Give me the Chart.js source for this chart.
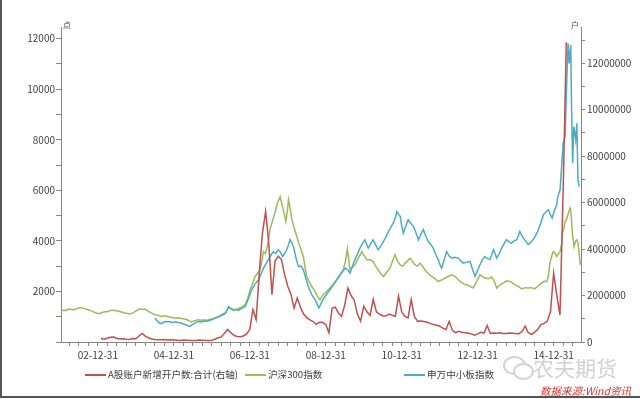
<!DOCTYPE html>
<html lang="zh-CN">
<head>
<meta charset="utf-8">
<title>A股新增开户数与指数走势</title>
<script src="https://cdn.jsdelivr.net/npm/chart.js@4.4.1/dist/chart.umd.min.js"></script>
<style>
  body { margin: 0; background: #fff; font-family: "Noto Sans CJK SC", "Noto Sans", sans-serif; }
  #wrap { position: relative; width: 640px; height: 399px; overflow: hidden; background: #fff; }
  #chart { position: absolute; left: 0; top: 0; }
  #frame { position: absolute; left: 0; top: 0; width: 638px; height: 396px;
           border-left: 2px solid #555; border-bottom: 2px solid #555; pointer-events: none; }
  .unit { position: absolute; top: 19px; font-size: 8px; color: #404040; }
  .leg { position: absolute; top: 366px; font-size: 9.6px; color: #404040; white-space: nowrap; line-height: 16px; }
  .leg i { display: inline-block; width: 21px; height: 2px; vertical-align: middle; margin-right: 2px; }
  #mark { position: absolute; left: 533px; top: 352px; font-size: 21px; color: #d2d2d2; }
  .bub { position: absolute; border: 2px solid #d2d2d2; border-radius: 50%; background: #fff; }
  #src { position: absolute; left: 540px; top: 383px; font-size: 10.5px; color: #e0302a; font-style: italic; white-space: nowrap; }
</style>
</head>
<body>
<div id="wrap">
  <canvas id="chart" width="640" height="399"></canvas>
  <div class="unit" style="left:63px">点</div>
  <div class="unit" style="left:571px">户</div>
  <div class="leg" style="left:85px"><i style="background:#c0504d"></i>A股账户新增开户数:合计(右轴)</div>
  <div class="leg" style="left:245px"><i style="background:#9bbb59"></i>沪深300指数</div>
  <div class="leg" style="left:404px"><i style="background:#4bacc6"></i>申万中小板指数</div>
  <div class="bub" style="left:503px;top:356px;width:19px;height:15px"></div>
  <div class="bub" style="left:513px;top:363px;width:17px;height:13px"></div>
  <div id="mark">农夫期货</div>
  <div id="src">数据来源:Wind资讯</div>
  <div id="frame"></div>
</div>
<script>
// ---- data ----
// monthly new A-share accounts, Jan 2003 .. Apr 2015 (right axis)
const redFirstYear = 2003;
const redAccounts = [
  150000,120000,160000,200000,210000,150000,130000,140000,120000,110000,150000,140000,
  260000,365000,250000,180000,130000,110000,100000,95000,110000,90000,95000,90000,
  80000,70000,90000,80000,70000,60000,70000,90000,80000,70000,60000,80000,
  120000,180000,220000,380000,540000,400000,290000,240000,230000,260000,350000,540000,
  1400000,970000,2970000,4690000,5620000,4260000,2040000,3500000,3690000,3550000,2900000,2400000,
  2050000,1450000,1900000,1500000,1200000,1050000,950000,880000,760000,850000,850000,750000,
  400000,1450000,1500000,1250000,1100000,1600000,2330000,2000000,1800000,1200000,900000,1540000,
  1300000,1150000,1830000,1300000,1200000,1120000,1120000,1200000,1150000,1110000,1970000,1300000,
  1100000,1040000,1830000,1100000,890000,900000,880000,850000,800000,750000,720000,680000,
  600000,540000,890000,500000,400000,460000,420000,400000,380000,350000,290000,350000,
  420000,380000,710000,370000,390000,380000,400000,370000,370000,390000,380000,370000,
  360000,450000,680000,400000,330000,420000,550000,750000,800000,900000,1300000,2970000,
  2000000,1160000,6500000,12900000
];

// CSI 300 (left axis), decimal-year dates
const hsDates = [
  2002.03,2002.10,2002.16,2002.22,2002.30,2002.39,2002.46,2002.53,2002.60,2002.67,2002.74,2002.82,2002.90,
  2003.01,2003.08,2003.15,2003.27,2003.35,2003.45,2003.55,2003.62,2003.71,2003.78,2003.84,2003.92,
  2004.00,2004.11,2004.18,2004.24,2004.32,2004.40,2004.50,2004.58,2004.67,2004.76,2004.85,2004.94,
  2005.03,2005.12,2005.20,2005.29,2005.38,2005.46,2005.55,2005.64,2005.72,2005.80,2005.86,2005.95,
  2006.03,2006.09,2006.17,2006.25,2006.35,2006.40,2006.44,2006.50,2006.57,2006.65,2006.74,2006.80,2006.88,2006.95,
  2007.01,2007.07,2007.14,2007.20,2007.27,2007.32,2007.36,2007.41,2007.45,2007.49,2007.53,2007.60,2007.66,2007.73,
  2007.80,2007.84,2007.88,2007.92,2007.95,2007.99,
  2008.02,2008.06,2008.11,2008.17,2008.24,2008.28,2008.32,2008.36,2008.41,2008.45,2008.50,2008.56,2008.63,
  2008.70,2008.76,2008.80,2008.85,2008.92,2008.98,
  2009.05,2009.11,2009.20,2009.29,2009.37,2009.46,2009.52,2009.57,2009.61,2009.64,2009.70,2009.77,2009.85,2009.95,
  2010.02,2010.08,2010.17,2010.25,2010.31,2010.38,2010.45,2010.52,2010.60,2010.69,2010.76,2010.82,2010.89,2010.96,
  2011.03,2011.09,2011.15,2011.22,2011.28,2011.35,2011.42,2011.48,2011.55,2011.61,2011.70,2011.79,2011.88,2011.96,
  2012.05,2012.14,2012.23,2012.32,2012.40,2012.49,2012.58,2012.67,2012.75,2012.80,2012.88,2012.97,
  2013.06,2013.12,2013.19,2013.28,2013.37,2013.44,2013.50,2013.58,2013.67,2013.76,2013.85,2013.92,2013.98,
  2014.07,2014.16,2014.25,2014.33,2014.42,2014.50,2014.58,2014.68,2014.75,2014.82,2014.86,2014.90,2014.95,2014.99,
  2015.04,2015.08,2015.13,2015.17,2015.21,2015.23,2015.27,2015.30,2015.35,2015.39,2015.43,2015.45,2015.47,
  2015.50,2015.54,2015.58,2015.61,2015.64,2015.67,2015.70
];
const hs300 = [
  1209,1260,1240,1303,1290,1276,1330,1367,1340,1310,1276,1240,1180,
  1118,1150,1190,1209,1260,1248,1220,1190,1146,1130,1106,1150,
  1220,1315,1290,1303,1230,1150,1078,1060,1010,1039,1000,970,
  948,960,930,908,860,790,840,881,860,880,853,900,
  925,948,1000,1040,1118,1250,1406,1330,1276,1300,1343,1400,1473,1750,
  2066,2300,2591,2700,2864,3200,3579,3500,3713,4000,4444,4800,5103,5500,
  5751,5500,5234,5000,4772,5200,
  5629,5300,4831,4500,4171,3950,3776,3600,3381,3000,2591,2400,2196,
  2050,1868,1760,1671,1850,1936,
  2050,2133,2300,2461,2650,2856,3200,3674,3200,2856,2950,3053,3300,3579,
  3400,3251,3250,3184,3000,2856,2700,2591,2750,2923,3200,3448,3200,3053,
  3000,3120,3200,3318,3200,3053,3000,3120,3000,2856,2700,2591,2500,2394,
  2450,2528,2600,2658,2600,2461,2350,2271,2250,2196,2133,2400,
  2658,2600,2528,2500,2568,2400,2133,2250,2331,2420,2394,2330,2271,
  2200,2101,2150,2133,2150,2101,2200,2331,2400,2394,2600,3120,3400,3579,
  3500,3381,3500,3579,3900,4305,4500,4766,4900,5100,5300,5200,4838,
  4200,3776,4000,4041,3900,3512,3050
];

// SW SME board index (left axis)
const smeDates = [
  2004.50,2004.55,2004.61,2004.67,2004.74,2004.80,2004.88,2004.98,
  2005.05,2005.12,2005.19,2005.27,2005.35,2005.42,2005.50,2005.57,2005.64,2005.72,2005.80,2005.86,2005.95,
  2006.03,2006.09,2006.18,2006.28,2006.36,2006.40,2006.44,2006.50,2006.57,2006.64,2006.70,2006.78,2006.88,2006.96,
  2007.05,2007.14,2007.23,2007.30,2007.36,2007.43,2007.49,2007.56,2007.62,2007.68,2007.75,2007.81,2007.86,2007.92,2007.97,
  2008.02,2008.06,2008.11,2008.15,2008.22,2008.28,2008.35,2008.41,2008.48,2008.54,2008.62,2008.72,2008.78,2008.82,2008.90,2008.98,
  2009.05,2009.11,2009.20,2009.29,2009.40,2009.51,2009.58,2009.64,2009.70,2009.77,2009.84,2009.90,2009.97,
  2010.03,2010.08,2010.12,2010.19,2010.25,2010.31,2010.38,2010.45,2010.52,2010.58,2010.65,2010.72,2010.78,2010.84,2010.87,2010.92,2010.96,
  2011.00,2011.04,2011.10,2011.17,2011.24,2011.31,2011.38,2011.44,2011.50,2011.57,2011.63,2011.70,2011.77,2011.83,2011.90,2011.96,
  2012.01,2012.05,2012.12,2012.18,2012.25,2012.32,2012.40,2012.49,2012.56,2012.62,2012.70,2012.80,2012.87,2012.93,
  2013.00,2013.06,2013.12,2013.19,2013.26,2013.32,2013.37,2013.41,2013.46,2013.50,2013.57,2013.63,2013.70,2013.76,2013.83,2013.89,2013.96,
  2014.03,2014.07,2014.11,2014.17,2014.23,2014.28,2014.33,2014.40,2014.46,2014.52,2014.58,2014.66,2014.73,2014.80,2014.86,2014.91,2014.96,
  2015.02,2015.08,2015.11,2015.17,2015.21,2015.25,2015.30,2015.34,2015.38,2015.41,2015.45,2015.47,2015.50,2015.53,2015.58,2015.61,2015.64,2015.67
];
const smeIndex = [
  948,850,760,723,790,814,800,774,
  800,770,750,700,660,616,700,760,814,790,830,814,860,
  900,948,1000,1100,1150,1260,1383,1320,1250,1280,1248,1320,1406,1700,
  2066,2300,2461,2700,2923,3100,3259,3450,3579,3500,3646,3550,3381,3500,3646,
  3850,4049,3900,3776,3300,2986,3000,2856,2500,2196,1900,1671,1480,1343,1600,1801,
  1950,2066,2250,2461,2700,2923,2850,2726,3000,3259,3500,3713,3900,
  4041,3850,3713,3900,4041,3850,3646,3800,3976,4150,4369,4550,4708,4950,5166,5050,4969,
  4600,4305,4550,4831,4700,4566,4300,4041,4250,4444,4200,3976,3850,3713,3450,3259,
  3050,2923,3250,3579,3400,3318,3350,3318,3200,3120,3150,3184,2850,2591,
  2850,3053,3250,3381,3300,3259,3450,3646,3500,3318,3500,3713,3900,4049,3950,3911,4000,
  4049,4200,4377,4200,4049,3950,3851,3950,4049,4200,4377,4700,5036,5150,5234,5050,4906,
  5200,5431,5751,6020,6936,7860,8121,10096,11810,11020,11743,9452,7070,8516,7991,8650,6411,6146
];

// axes
const xLabelYears = [2003, 2005, 2007, 2009, 2011, 2013, 2015];
const xLabels = ['02-12-31', '04-12-31', '06-12-31', '08-12-31', '10-12-31', '12-12-31', '14-12-31'];
const leftLabels = [2000, 4000, 6000, 8000, 10000, 12000];
const rightLabels = [0, 2000000, 4000000, 6000000, 8000000, 10000000, 12000000];

const X_MIN = 2002.03, X_MAX = 2015.72;
const LEFT_MAX = 12460, RIGHT_MAX = 13560000;

const AXIS = '#868686';
const TXT = '#404040';
const FONT = { family: '"Noto Sans CJK SC", "Noto Sans", sans-serif', size: 10 };

function pairs(xs, ys) {
  return xs.map((x, i) => ({ x, y: ys[i] }));
}

const redData = redAccounts.map((v, i) => ({ x: redFirstYear + (i + 1) / 12, y: v }));

function quarterTicks() {
  const out = [];
  for (let q = Math.ceil(X_MIN * 4); q <= Math.floor(X_MAX * 4); q++) out.push({ value: q / 4 });
  return out;
}
function stepTicks(max, step) {
  const out = [];
  for (let v = 0; v <= max; v += step) out.push({ value: v });
  return out;
}

const ctx = document.getElementById('chart');
new Chart(ctx, {
  type: 'line',
  data: {
    datasets: [
      { label: 'A股账户新增开户数:合计(右轴)', data: redData, yAxisID: 'yR',
        borderColor: '#c0504d', borderWidth: 1.5, order: 0 },
      { label: '申万中小板指数', data: pairs(smeDates, smeIndex), yAxisID: 'yL',
        borderColor: '#4bacc6', borderWidth: 1.5, order: 1 },
      { label: '沪深300指数', data: pairs(hsDates, hs300), yAxisID: 'yL',
        borderColor: '#9bbb59', borderWidth: 1.5, order: 2 }
    ]
  },
  options: {
    responsive: false,
    animation: false,
    devicePixelRatio: 1,
    layout: { padding: { top: 27, left: 0, right: 0, bottom: 0 } },
    elements: { point: { radius: 0 }, line: { tension: 0 } },
    plugins: { legend: { display: false }, tooltip: { enabled: false } },
    scales: {
      x: {
        type: 'linear', min: X_MIN, max: X_MAX,
        afterBuildTicks: s => { s.ticks = quarterTicks(); },
        afterFit: s => { s.height = 57; },
        grid: { drawOnChartArea: false, tickLength: 4, color: AXIS },
        border: { color: AXIS },
        ticks: {
          autoSkip: false, maxRotation: 0, padding: 3, color: TXT, font: FONT,
          callback: v => {
            const i = xLabelYears.findIndex(y => Math.abs(y - v) < 1e-6);
            return i >= 0 ? xLabels[i] : '';
          }
        }
      },
      yL: {
        position: 'left', min: 0, max: LEFT_MAX,
        afterBuildTicks: s => { s.ticks = stepTicks(12000, 1000); },
        afterFit: s => { s.width = 61; },
        grid: { drawOnChartArea: false, tickLength: 5, color: AXIS },
        border: { color: AXIS },
        ticks: { autoSkip: false, padding: 1, color: TXT, font: FONT,
          callback: v => leftLabels.includes(v) ? String(v) : '' }
      },
      yR: {
        position: 'right', min: 0, max: RIGHT_MAX,
        afterBuildTicks: s => { s.ticks = stepTicks(13000000, 1000000); },
        afterFit: s => { s.width = 59; },
        grid: { drawOnChartArea: false, tickLength: 4, color: AXIS },
        border: { color: AXIS },
        ticks: { autoSkip: false, padding: 2, color: TXT, font: FONT,
          callback: v => rightLabels.includes(v) ? String(v) : '' }
      }
    }
  }
});
</script>
</body>
</html>
